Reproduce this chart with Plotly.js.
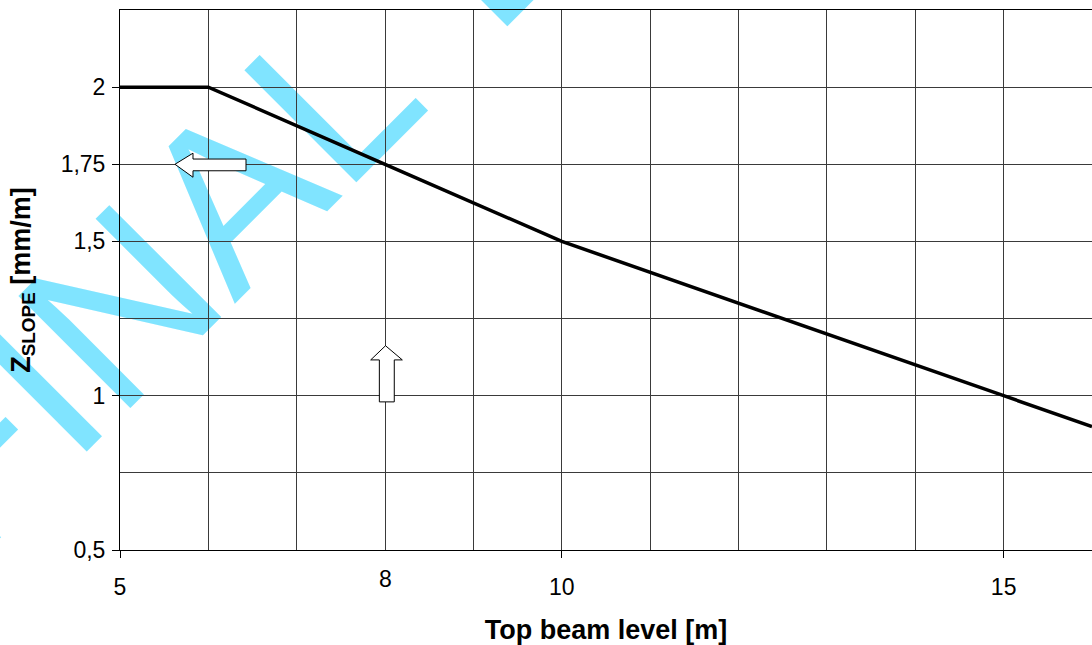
<!DOCTYPE html>
<html>
<head>
<meta charset="utf-8">
<script src="https://cdn.plot.ly/plotly-3.0.1.min.js"></script>
<style>
html,body{margin:0;padding:0;background:#fff;overflow:hidden;}
#chart{width:1092px;height:645px;}
</style>
</head>
<body>
<div id="chart"></div>
<script>
// ---- data ----
const beamLevel = [5, 6, 8, 10, 15, 16];          // Top beam level [m]
const zSlope    = [2.0, 2.0, 1.75, 1.5, 1.0, 0.9]; // Z_SLOPE [mm/m]

const xTickVals   = [5, 10, 15];
const xTickText   = ['5', '10', '15'];
const xRaisedVals = [8];
const xRaisedText = ['8'];
const xGridVals   = [6, 7, 8, 9, 11, 12, 13, 14, 16];

const yTickVals = [0.5, 1, 1.5, 1.75, 2];
const yTickText = ['0,5', '1', '1,5', '1,75', '2'];
const yGridVals = [0.75, 1.25, 2.25];

const watermarkWords = ['FINAL', 'DRAFT'];

const FONT = 'Liberation Sans, Arial, sans-serif';
const GRID = '#3a3a3a';
const TICKSIZE = 23;

const trace = {
  x: beamLevel, y: zSlope, type: 'scatter', mode: 'lines',
  line: {color: '#000', width: 3.5}, hoverinfo: 'skip', showlegend: false
};

const annotations = xRaisedVals.map((v, i) => ({
  x: v, xref: 'x', y: 0, yref: 'paper', yanchor: 'top', xanchor: 'center',
  yshift: -14, text: xRaisedText[i], showarrow: false,
  font: {family: FONT, size: TICKSIZE, color: '#000'}
}));

// watermark word centres (paper coords)
const wmPos = [[0.0115, 0.5303], [0.5897, 1.5802]];

const shapes = watermarkWords.map((w, i) => ({
  type: 'rect', xref: 'paper', yref: 'paper',
  x0: wmPos[i][0] - 0.001, x1: wmPos[i][0] + 0.001,
  y0: wmPos[i][1] - 0.001, y1: wmPos[i][1] + 0.001,
  line: {width: 0}, fillcolor: 'rgba(0,0,0,0)', layer: 'below',
  label: {text: w, textangle: -45, textposition: 'middle center',
          font: {family: FONT, size: 230, color: '#80E4FF'}}
}));

shapes.push(
  // left block arrow
  {type: 'path', xref: 'x', yref: 'y', layer: 'above',
   path: 'M 5.622 1.75 L 5.826 1.786 L 5.826 1.767 L 6.426 1.767 L 6.426 1.729 L 5.826 1.729 L 5.826 1.708 Z',
   fillcolor: '#fff', line: {color: '#000', width: 1}},
  // up block arrow
  {type: 'path', xref: 'x', yref: 'y', layer: 'above',
   path: 'M 8.005 1.162 L 8.195 1.116 L 8.104 1.116 L 8.104 0.980 L 7.935 0.980 L 7.935 1.116 L 7.837 1.116 Z',
   fillcolor: '#fff', line: {color: '#000', width: 1}}
);

const layout = {
  width: 1092, height: 645,
  margin: {l: 120, r: 0, t: 10, b: 95},
  paper_bgcolor: 'rgba(0,0,0,0)', plot_bgcolor: 'rgba(0,0,0,0)',
  font: {family: FONT, color: '#000'},
  showlegend: false,
  xaxis: {
    range: [5, 16], tickmode: 'array', tickvals: xTickVals, ticktext: xTickText,
    ticks: 'outside', ticklen: 7, tickcolor: '#000', tickwidth: 1,
    ticklabelstandoff: 9,
    showgrid: true, gridcolor: GRID, gridwidth: 1,
    minor: {tickmode: 'array', tickvals: xGridVals, showgrid: true, gridcolor: GRID, gridwidth: 1, ticks: ''},
    showline: true, linecolor: '#000', linewidth: 1, mirror: true, zeroline: false,
    tickfont: {family: FONT, size: TICKSIZE, color: '#000'},
    title: {text: '<b>Top beam level [m]</b>', font: {family: FONT, size: 27, color: '#000'}, standoff: 21},
    automargin: false, fixedrange: true
  },
  yaxis: {
    range: [0.5, 2.25], tickmode: 'array', tickvals: yTickVals, ticktext: yTickText,
    ticks: 'outside', ticklen: 7, tickcolor: '#000', tickwidth: 1,
    ticklabelstandoff: 2,
    showgrid: true, gridcolor: GRID, gridwidth: 1,
    minor: {tickmode: 'array', tickvals: yGridVals, showgrid: true, gridcolor: GRID, gridwidth: 1, ticks: ''},
    showline: true, linecolor: '#000', linewidth: 1, mirror: true, zeroline: false,
    tickfont: {family: FONT, size: TICKSIZE, color: '#000'},
    title: {text: '<b>Z<sub>SLOPE</sub> [mm/m]</b>', font: {family: FONT, size: 27, color: '#000'}, standoff: 22},
    automargin: false, fixedrange: true
  },
  annotations: annotations,
  shapes: shapes
};

Plotly.newPlot('chart', [trace], layout, {displayModeBar: false, staticPlot: true});
</script>
</body>
</html>
